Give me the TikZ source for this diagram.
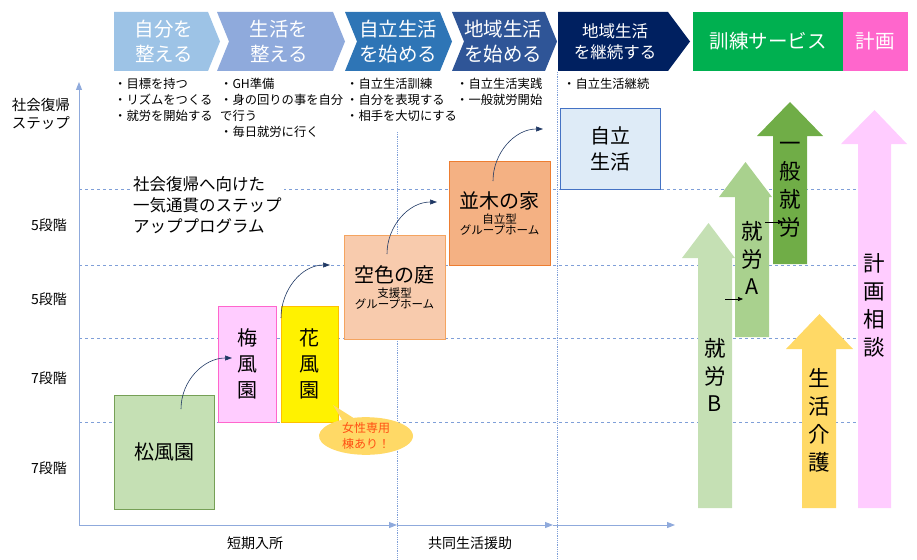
\documentclass[tikz,border=0pt]{standalone}
\usepackage{fontspec}
\setmainfont{Noto Sans CJK JP}
\usetikzlibrary{arrows.meta,shapes.callouts}
\definecolor{axisblue}{HTML}{8FAADC}
\definecolor{dashblue}{HTML}{7F9FD8}
\definecolor{curvec}{HTML}{1F3864}
\newcommand{\fs}[1]{\fontsize{#1}{\fpeval{#1*1.3}}\selectfont}
\tikzset{
 hdr/.style={text=white,align=center,font=\fs{19.5}},
 bul/.style={anchor=north west,align=left,font=\fs{12.3},inner sep=0pt},
 lvl/.style={font=\fs{14}},
 hline/.style={dashblue,dashed,line width=0.6pt},
 vline/.style={dashblue,densely dotted,line width=0.8pt},
 box/.style={draw,line width=1pt,align=center,inner sep=0pt},
 curv/.style={curvec,line width=0.6pt,-{Triangle[length=7pt,width=5pt]}},
 small/.style={-{Triangle[length=5pt,width=4pt]},line width=0.6pt},
 axarr/.style={axisblue,line width=1pt,-{Triangle[length=8pt,width=6pt]}},
 atext/.style={font=\fs{21.5},align=center,inner sep=0pt},
}
\begin{document}
\begin{tikzpicture}[x=1pt,y=-1pt]
\useasboundingbox (0,0) rectangle (917,559);
% headers
\fill[fill={rgb,255:red,157;green,195;blue,230}] (114,12)--(208,12)--(220,41.5)--(208,71)--(114,71)--cycle;
\fill[fill={rgb,255:red,143;green,170;blue,220}] (217,12)--(333,12)--(345,41.5)--(333,71)--(217,71)--(229,41.5)--cycle;
\fill[fill={rgb,255:red,46;green,117;blue,182}] (345,12)--(440,12)--(452,41.5)--(440,71)--(345,71)--(357,41.5)--cycle;
\fill[fill={rgb,255:red,47;green,85;blue,151}] (452,12)--(545,12)--(557,41.5)--(545,71)--(452,71)--(464,41.5)--cycle;
\fill[fill={rgb,255:red,0;green,32;blue,96}] (558,12)--(668,12)--(690,41.5)--(668,71)--(558,71)--cycle;
\fill[fill={rgb,255:red,0;green,176;blue,80}] (693,12) rectangle (843,71);
\fill[fill={rgb,255:red,255;green,102;blue,204}] (843,12) rectangle (908,71);
\node[hdr] (h1) at (164,41.5) {自分を\\整える};
\node[hdr] (h2) at (279,41.5) {生活を\\整える};
\node[hdr] (h3) at (398,41.5) {自立生活\\を始める};
\node[hdr] (h4) at (503,41.5) {地域生活\\を始める};
\node[hdr,font=\fs{16.5}] (h5) at (615,41.5) {地域生活\\を継続する};
\node[hdr] (h6) at (768,41.5) {訓練サービス};
\node[hdr] (h7) at (875,41.5) {計画};
% bullets
\node[bul] (b1) at (114,78) {・目標を持つ\\・リズムをつくる\\・就労を開始する};
\node[bul] (b2) at (220,78) {・GH準備\\・身の回りの事を自分\\で行う\\・毎日就労に行く};
\node[bul] (b3) at (346,78) {・自立生活訓練\\・自分を表現する\\・相手を大切にする};
\node[bul] (b4) at (456,78) {・自立生活実践\\・一般就労開始};
\node[bul] (b5) at (563,78) {・自立生活継続};
% grid
\foreach \yy in {189,265,338,422} \draw[hline] (79,\yy)--(860,\yy);
\draw[vline] (397,132)--(397,559);
\draw[vline] (557,72)--(557,559);
% axes
\coordinate (o) at (79,525);
\coordinate (top) at (79,82);
\coordinate (a1) at (397,525);
\coordinate (a2) at (553,525);
\coordinate (a3) at (675,525);
\draw[axarr] (o)--(top);
\draw[axarr] (o)--(a1);
\draw[axarr] (a1)--(a2);
\draw[axarr] (a2)--(a3);
\node[font=\fs{14.5},align=left] (ylab) at (41,114) {社会復帰\\ステップ};
\node[lvl] (l1) at (49,225) {5段階};
\node[lvl] (l2) at (49,299) {5段階};
\node[lvl] (l3) at (49,378) {7段階};
\node[lvl] (l4) at (49,468) {7段階};
\node[font=\fs{14}] (x1) at (255,543) {短期入所};
\node[font=\fs{14}] (x2) at (470,543) {共同生活援助};
\node[fill=white,align=left,font=\fs{16.5},inner sep=2pt,anchor=north west] (prog) at (131,174) {社会復帰へ向けた\\一気通貫のステップ\\アッププログラム};
% boxes
\node[box,draw={rgb,255:red,118;green,160;blue,86},fill={rgb,255:red,197;green,224;blue,180},minimum width=100pt,minimum height=114pt,font=\fs{20}] (mat) at (164,452) {松風園};
\node[box,draw={rgb,255:red,255;green,102;blue,204},fill={rgb,255:red,255;green,204;blue,255},minimum width=58pt,minimum height=116pt,font=\fs{20}] (ume) at (247,364) {梅\\風\\園};
\node[box,draw={rgb,255:red,255;green,192;blue,0},fill=yellow,minimum width=57pt,minimum height=116pt,font=\fs{20}] (hana) at (309.5,364) {花\\風\\園};
\node[box,draw={rgb,255:red,244;green,164;blue,96},fill={rgb,255:red,248;green,203;blue,173},minimum width=101pt,minimum height=104pt] (sora) at (394.5,287) {{\fs{20}空色の庭}\\[3pt]{\fs{11.5}支援型}\\[-1pt]{\fs{11.5}グループホーム}};
\node[box,draw={rgb,255:red,237;green,125;blue,49},fill={rgb,255:red,244;green,177;blue,131},minimum width=101pt,minimum height=104pt] (nami) at (499.5,213) {{\fs{20}並木の家}\\[3pt]{\fs{11.5}自立型}\\[-1pt]{\fs{11.5}グループホーム}};
\node[box,draw={rgb,255:red,68;green,114;blue,196},fill={rgb,255:red,222;green,235;blue,247},minimum width=100pt,minimum height=80pt,font=\fs{20}] (jiri) at (610,149) {自立\\生活};
% curves
\coordinate (c1e) at (232,358);
\coordinate (c2e) at (330,265);
\coordinate (c3e) at (437,202);
\coordinate (c4e) at (543,129);
\draw[curv] (181,409) to[out=90,in=180] (c1e);
\draw[curv] (281,318) to[out=90,in=180] (c2e);
\draw[curv] (387,254) to[out=90,in=180] (c3e);
\draw[curv] (493,181) to[out=90,in=180] (c4e);
% callout
\node[ellipse callout,fill={rgb,255:red,255;green,217;blue,102},callout absolute pointer={(333,405)},minimum width=94pt,minimum height=36pt,inner sep=0pt,align=center,text={rgb,255:red,255;green,80;blue,20},font=\fs{12}] (call) at (366,436) {女性専用\\棟あり！};
% service arrows
\fill[fill={rgb,255:red,197;green,224;blue,180}] (698,508)--(698,258)--(682,258)--(708.5,223)--(735,258)--(732,258)--(732,508)--cycle;
\fill[fill={rgb,255:red,169;green,209;blue,142}] (735,337)--(735,197)--(719,197)--(745.5,162)--(772,197)--(769,197)--(769,337)--cycle;
\fill[fill={rgb,255:red,112;green,173;blue,71}] (773,264)--(773,136)--(757,136)--(790,102)--(823,136)--(807,136)--(807,264)--cycle;
\fill[fill={rgb,255:red,255;green,217;blue,102}] (802,508)--(802,349)--(786,349)--(819.5,314)--(853,349)--(836,349)--(836,508)--cycle;
\fill[fill={rgb,255:red,255;green,204;blue,255}] (858,508)--(858,144)--(841,144)--(874.5,110)--(907,144)--(891,144)--(891,508)--cycle;
\node[atext] (tB) at (715,375) {就\\労\\B};
\node[atext] (tA) at (752,258) {就\\労\\A};
\node[atext] (tG) at (790,190) {一\\般\\就\\労};
\node[atext] (tK) at (819,420) {生\\活\\介\\護};
\node[atext] (tP) at (874.5,305) {計\\画\\相\\談};
\coordinate (s1a) at (725,299); \coordinate (s1b) at (743,299);
\coordinate (s2a) at (765,222); \coordinate (s2b) at (783,222);
\draw[small] (s1a)--(s1b);
\draw[small] (s2a)--(s2b);
\end{tikzpicture}
\end{document}
